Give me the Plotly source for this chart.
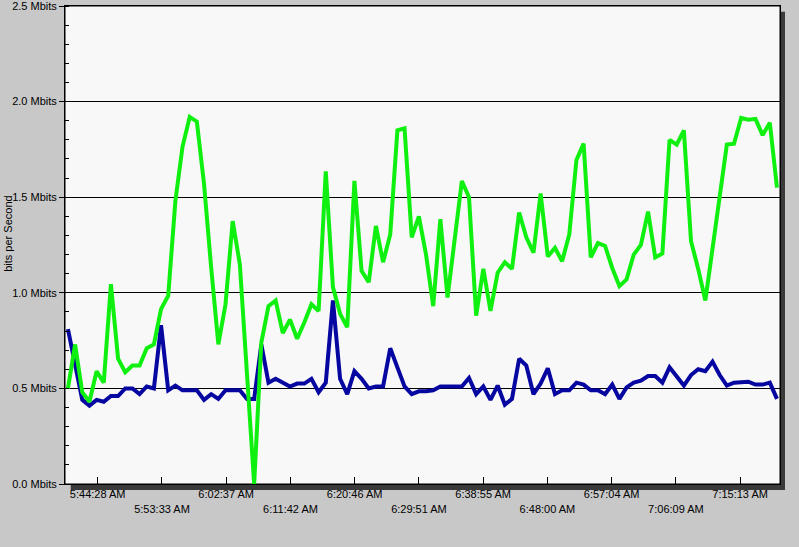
import plotly.graph_objects as go

# ---- data ----
TICK_LABELS = ["5:44:28 AM", "5:53:33 AM", "6:02:37 AM", "6:11:42 AM", "6:20:46 AM",
               "6:29:51 AM", "6:38:55 AM", "6:48:00 AM", "6:57:04 AM", "7:06:09 AM",
               "7:15:13 AM"]
Y_TICK_VALUES = [0.0, 0.5, 1.0, 1.5, 2.0, 2.5]
Y_TICK_LABELS = ["0.0 Mbits", "0.5 Mbits", "1.0 Mbits", "1.5 Mbits", "2.0 Mbits", "2.5 Mbits"]

START_TIME = "5:40:16 AM"   # first sample
SAMPLE_STEP_SEC = 60.7       # sampling interval

GREEN_MBITS = [0.50, 0.73, 0.48, 0.43, 0.59, 0.53, 1.045, 0.655, 0.585, 0.62,
               0.62, 0.71, 0.73, 0.915, 0.985, 1.48, 1.765, 1.92, 1.895, 1.57,
               1.13, 0.73, 0.94, 1.375, 1.15, 0.60, 0.0, 0.74, 0.93, 0.96,
               0.79, 0.86, 0.76, 0.845, 0.94, 0.905, 1.635, 1.03, 0.89, 0.82,
               1.585, 1.115, 1.055, 1.35, 1.16, 1.305, 1.85, 1.86, 1.29, 1.40,
               1.20, 0.93, 1.385, 0.975, 1.28, 1.585, 1.50, 0.88, 1.125, 0.905,
               1.105, 1.16, 1.125, 1.42, 1.29, 1.21, 1.52, 1.19, 1.235, 1.165,
               1.305, 1.695, 1.78, 1.185, 1.26, 1.245, 1.13, 1.035, 1.07, 1.20,
               1.25, 1.425, 1.185, 1.205, 1.80, 1.775, 1.85, 1.27, 1.125, 0.96,
               1.23, 1.50, 1.775, 1.78, 1.915, 1.905, 1.91, 1.825, 1.89, 1.55]

BLUE_MBITS = [0.81, 0.62, 0.44, 0.41, 0.44, 0.43, 0.46, 0.46, 0.50, 0.50,
              0.47, 0.51, 0.50, 0.83, 0.49, 0.515, 0.49, 0.49, 0.49, 0.44,
              0.47, 0.445, 0.49, 0.49, 0.49, 0.445, 0.445, 0.73, 0.53, 0.55,
              0.53, 0.51, 0.525, 0.525, 0.55, 0.48, 0.53, 0.96, 0.55, 0.47,
              0.59, 0.55, 0.50, 0.51, 0.51, 0.71, 0.61, 0.51, 0.47, 0.485,
              0.485, 0.49, 0.51, 0.51, 0.51, 0.51, 0.555, 0.47, 0.51, 0.44,
              0.515, 0.415, 0.445, 0.655, 0.62, 0.47, 0.525, 0.605, 0.47, 0.49,
              0.49, 0.53, 0.52, 0.49, 0.49, 0.47, 0.52, 0.445, 0.505, 0.53,
              0.54, 0.565, 0.565, 0.53, 0.61, 0.56, 0.515, 0.57, 0.60, 0.59,
              0.64, 0.57, 0.515, 0.53, 0.535, 0.535, 0.52, 0.52, 0.53, 0.445]


def to_sec(label):
    t, ampm = label.split()
    h, m, s = (int(v) for v in t.split(":"))
    if ampm == "PM" and h != 12:
        h += 12
    return h * 3600 + m * 60 + s


tick_vals = [to_sec(l) for l in TICK_LABELS]
tick_text = [l if i % 2 == 0 else " <br>" + l for i, l in enumerate(TICK_LABELS)]
t0 = to_sec(START_TIME)
times = [t0 + i * SAMPLE_STEP_SEC for i in range(len(GREEN_MBITS))]

FONT = "Arial, Liberation Sans, sans-serif"

fig = go.Figure()
fig.add_trace(go.Scatter(x=times, y=BLUE_MBITS, mode="lines",
                         line=dict(color="#0606A0", width=4), showlegend=False))
fig.add_trace(go.Scatter(x=times, y=GREEN_MBITS, mode="lines",
                         line=dict(color="#10F010", width=4), showlegend=False))

# shadow + plot frame
fig.add_shape(type="rect", xref="paper", yref="paper", x0=0.008, x1=1.007, y0=-0.0125, y1=0.988,
              fillcolor="#3A3A3A", line=dict(width=0), layer="below")
fig.add_shape(type="rect", xref="paper", yref="paper", x0=0, x1=1, y0=0, y1=1,
              fillcolor="#F8F8F8", line=dict(color="black", width=1), layer="below")

fig.add_annotation(text="bits per Second", xref="paper", yref="paper", x=-0.08, y=0.523,
                   textangle=-90, showarrow=False, xanchor="center", yanchor="middle",
                   font=dict(family=FONT, size=11, color="black"))

fig.update_layout(
    width=799, height=547,
    margin=dict(l=65, r=19, t=6, b=63),
    paper_bgcolor="#C8C8C8",
    plot_bgcolor="rgba(0,0,0,0)",
    font=dict(family=FONT, size=11, color="black"),
    showlegend=False,
)
fig.update_xaxes(range=[20391, 26451], tickmode="array", tickvals=tick_vals, ticktext=tick_text,
                 ticks="inside", ticklen=7, tickcolor="black", showgrid=False, zeroline=False,
                 showline=True, linecolor="black", linewidth=1, mirror=True, automargin=False,
                 tickfont=dict(family=FONT, size=11, color="black"))
fig.update_yaxes(range=[0, 2.5001], tickmode="array", tickvals=Y_TICK_VALUES, ticktext=Y_TICK_LABELS,
                 ticks="outside", ticklen=5, tickcolor="black", ticklabeloverflow="allow",
                 automargin=False,
                 minor=dict(ticks="inside", ticklen=4, dtick=0.1, tickcolor="black", showgrid=False),
                 showgrid=True, gridcolor="black", gridwidth=1, zeroline=False,
                 showline=True, linecolor="black", linewidth=1, mirror=True,
                 tickfont=dict(family=FONT, size=11, color="black"))

fig.write_html("out.html")
